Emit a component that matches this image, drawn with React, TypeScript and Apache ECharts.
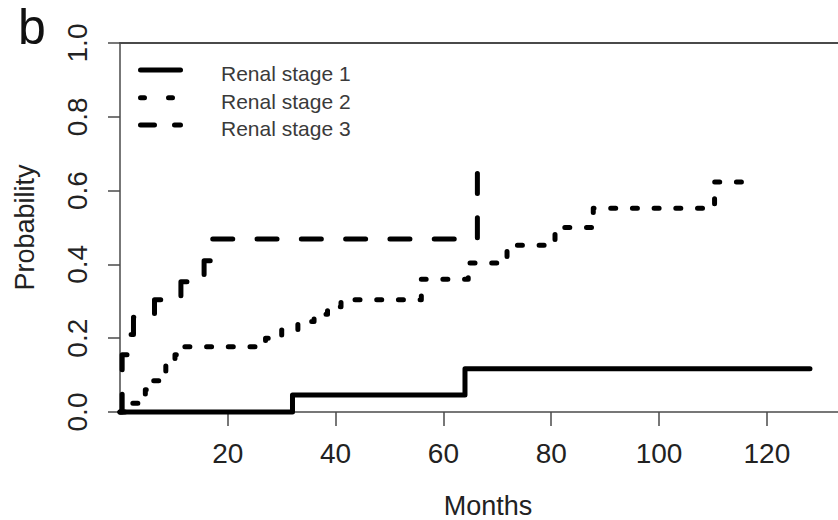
import React, { useEffect, useRef } from "react";
import * as echarts from "echarts";

// ---- data (months, cumulative probability) ----
const stage1X = [0, 32, 64, 128];
const stage1Y = [0, 0.046, 0.117, 0.117];

const stage2X = [0, 1.0, 4.7, 6.0, 7.2, 8.5, 10.2, 11.0, 27, 30, 33, 36, 38.5, 41, 55.9, 64.6, 71.8, 80.7, 87.8, 110.3, 115.6];
const stage2Y = [0, 0.024, 0.06, 0.085, 0.11, 0.135, 0.155, 0.177, 0.2, 0.222, 0.245, 0.265, 0.285, 0.304, 0.36, 0.404, 0.452, 0.5, 0.552, 0.623, 0.623];

const stage3X = [0, 0.4, 1.3, 2.5, 6.4, 11.3, 15.6, 17.0, 66.3];
const stage3Y = [0, 0.155, 0.21, 0.257, 0.304, 0.353, 0.41, 0.469, 0.664];

const seriesNames = ["Renal stage 1", "Renal stage 2", "Renal stage 3"];
const xTicks = [20, 40, 60, 80, 100, 120];

const FONT = "Liberation Sans, Arial, Helvetica, sans-serif";
const AXIS = "#4a4a4a";
const TEXT = "#222";

function pairs(xs: number[], ys: number[]) {
  return xs.map((x, i) => [x, ys[i]]);
}

export default function App() {
  const ref = useRef<HTMLDivElement>(null);

  useEffect(() => {
    if (!ref.current) return;
    const chart = echarts.init(ref.current, undefined, { renderer: "svg" });

    const lineBase = {
      type: "line" as const,
      step: "end" as const,
      symbol: "none",
      clip: false,
      silent: true,
      z: 5,
    };

    const legendRows = [70, 97.7, 125];
    const legendDash: any[] = [null, [4, 24], [14, 20]];
    const graphics: any[] = [];
    legendRows.forEach((y, i) => {
      graphics.push({
        type: "line",
        shape: { x1: 140.5, y1: y, x2: 180.5, y2: y },
        style: {
          stroke: "#000",
          lineWidth: 5,
          lineCap: "round",
          lineDash: legendDash[i] || undefined,
        },
        z: 10,
      });
      graphics.push({
        type: "text",
        x: 221,
        y: y + 3.8,
        style: {
          text: seriesNames[i],
          font: `21px ${FONT}`,
          fill: "#3a3a3a",
          verticalAlign: "middle",
          align: "left",
        },
        z: 10,
      });
    });
    graphics.push({
      type: "text",
      x: 18,
      y: 26.5,
      style: {
        text: "b",
        font: `50px ${FONT}`,
        fill: "#111",
        verticalAlign: "middle",
        align: "left",
      },
    });

    const xMax = 133.2;

    chart.setOption({
      animation: false,
      backgroundColor: "#fff",
      grid: {
        left: 120,
        right: 0,
        top: 43,
        bottom: 108,
        containLabel: false,
        outerBoundsMode: "none",
      },
      xAxis: [
        {
          type: "value",
          min: 0,
          max: xMax,
          interval: 20,
          name: "Months",
          nameLocation: "middle",
          nameGap: 80,
          nameTextStyle: { fontFamily: FONT, fontSize: 27, color: TEXT, padding: [0, 0, 0, 18] },
          axisLine: { show: true, lineStyle: { color: AXIS, width: 1.5 } },
          axisTick: {
            show: true,
            length: 14,
            inside: false,
            customValues: xTicks,
            lineStyle: { color: AXIS, width: 1.5 },
          },
          axisLabel: {
            customValues: xTicks,
            margin: 27,
            fontFamily: FONT,
            fontSize: 28,
            color: TEXT,
          },
          splitLine: { show: false },
        },
        {
          type: "value",
          position: "top",
          min: 0,
          max: xMax,
          axisLine: { show: true, onZero: false, lineStyle: { color: AXIS, width: 2 } },
          axisTick: { show: false },
          axisLabel: { show: false },
          splitLine: { show: false },
        },
      ],
      yAxis: {
        type: "value",
        min: 0,
        max: 1,
        interval: 0.2,
        name: "Probability",
        nameLocation: "middle",
        nameGap: 82,
        nameRotate: 90,
        nameTextStyle: { fontFamily: FONT, fontSize: 27, color: TEXT },
        axisLine: { show: true, lineStyle: { color: AXIS, width: 1.5 } },
        axisTick: { show: true, length: 12, lineStyle: { color: AXIS, width: 1.5 } },
        axisLabel: {
          rotate: 90,
          margin: 29,
          fontFamily: FONT,
          fontSize: 28,
          color: TEXT,
          formatter: (v: number) => v.toFixed(1),
        },
        splitLine: { show: false },
      },
      series: [
        {
          ...lineBase,
          name: seriesNames[0],
          data: pairs(stage1X, stage1Y),
          lineStyle: { color: "#000", width: 5, type: "solid", cap: "round", join: "round" },
        },
        {
          ...lineBase,
          name: seriesNames[1],
          data: pairs(stage2X, stage2Y),
          lineStyle: { color: "#000", width: 5, type: [5, 16.7], cap: "round", join: "round" },
        },
        {
          ...lineBase,
          name: seriesNames[2],
          data: pairs(stage3X, stage3Y),
          lineStyle: { color: "#000", width: 5, type: [20, 24.3], cap: "round", join: "round" },
        },
      ],
      graphic: graphics,
    });

    return () => chart.dispose();
  }, []);

  return (
    <div
      ref={ref}
      style={{ position: "fixed", left: 0, top: 0, width: 838, height: 520, background: "#fff" }}
    />
  );
}
